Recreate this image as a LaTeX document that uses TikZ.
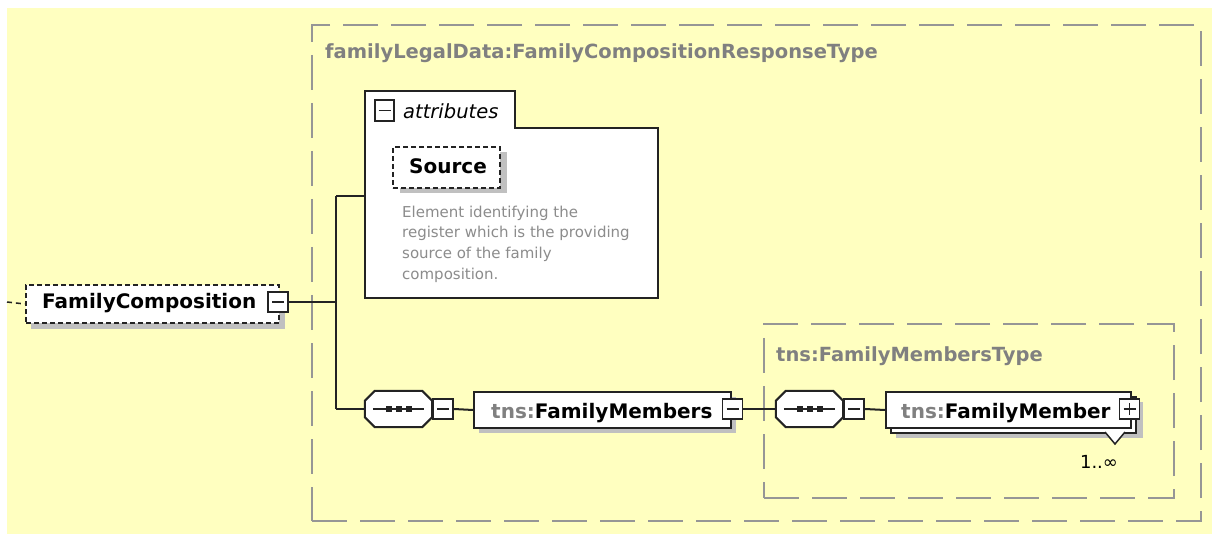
\documentclass[tikz,border=0pt]{standalone}
\usepackage{fontspec}
\setmainfont{DejaVu Sans}
\definecolor{bgy}{RGB}{255,255,192}
\definecolor{dk}{RGB}{35,35,35}
\definecolor{gry}{RGB}{128,128,128}
\definecolor{dashg}{RGB}{150,150,150}
\definecolor{shd}{RGB}{192,192,192}
\definecolor{desc}{RGB}{140,140,140}
\tikzset{
  lbl/.style={font=\fontsize{20}{22}\selectfont\bfseries, inner sep=0pt},
  elem/.style={draw=dk, line width=2pt, fill=white, inner sep=0pt},
  optelem/.style={elem, dash pattern=on 5pt off 3pt},
  toggle/.style={draw=dk, line width=1.8pt, fill=white, minimum width=20pt, minimum height=20pt, inner sep=0pt},
  typebox/.style={draw=dashg, line width=2pt, dash pattern=on 35pt off 13pt, inner sep=0pt},
  conn/.style={draw=dk, line width=2pt},
  shadowst/.style={fill=shd},
  sign/.style={draw=dk, line width=1.5pt},
}
\newcommand{\octa}[2]{% #1 style, #2 node name
  \path[#1] ([xshift=10pt]#2.north west) -- ([xshift=-10pt]#2.north east) -- ([yshift=-10pt]#2.north east) -- ([yshift=10pt]#2.south east) -- ([xshift=-10pt]#2.south east) -- ([xshift=10pt]#2.south west) -- ([yshift=10pt]#2.south west) -- ([yshift=-10pt]#2.north west) -- cycle;}
\begin{document}
\begin{tikzpicture}[x=1pt,y=-1pt]
\useasboundingbox (0,0) rectangle (1212,534);
\fill[white] (0,0) rectangle (1212,534);
\fill[bgy] (7,8) rectangle (1212,534);

% type boxes
\node[typebox, minimum width=889pt, minimum height=496pt, anchor=north west] (rt) at (311,24) {};
\node[lbl, font=\fontsize{19.5}{22}\selectfont\bfseries, text=gry, anchor=base west] (rtt) at (325,59) {familyLegalData:FamilyCompositionResponseType};
\node[typebox, minimum width=410pt, minimum height=174pt, anchor=north west] (mt) at (763,323) {};
\node[lbl, font=\fontsize{19.5}{22}\selectfont\bfseries, text=gry, anchor=base west] (mtt) at (776,361) {tns:FamilyMembersType};

% FamilyComposition
\fill[shadowst] (31,291) rectangle (285,329);
\node[optelem, minimum width=253pt, minimum height=38pt, anchor=north west] (fc) at (25,284) {};
\node[lbl, anchor=base west] (fctx) at (42,309) {FamilyComposition};
\node[toggle] (fct) at (278,302) {};
\draw[sign] ([xshift=-6pt]fct.center) -- ([xshift=6pt]fct.center);
\coordinate (fcin) at (7,302);
\draw[dk, line width=1.5pt, dash pattern=on 5pt off 4pt] (fcin) -- (fc.west);

% junction
\coordinate (j) at (336,302);
\coordinate (jt) at (336,196);
\coordinate (jb) at (336,409);
\coordinate (attrL) at (365,196);
\draw[conn] (fct.east) -- (j);
\draw[conn] (jt) -- (jb);
\draw[conn] (jt) -- (attrL);

% attributes box
\draw[dk, line width=2pt, fill=white] (365,298) -- (365,91) -- (515,91) -- (515,128) -- (658,128) -- (658,298) -- cycle;
\node[toggle, minimum width=19pt, minimum height=21pt] (at) at (384.5,110.5) {};
\draw[sign] ([xshift=-6pt]at.center) -- ([xshift=6pt]at.center);
\node[font=\fontsize{19.5}{22}\selectfont\itshape, inner sep=0pt, anchor=base west] (attx) at (403,119) {attributes};

% Source
\fill[shadowst] (400,152) rectangle (507,193);
\node[optelem, minimum width=107pt, minimum height=41pt, anchor=north west] (src) at (392,146) {};
\node[lbl, anchor=base west] (srctx) at (409,174) {Source};
\node[font=\fontsize{15}{20.7}\selectfont, text=desc, align=left, inner sep=0pt, anchor=north west] (dsc) at (402,205.5)
  {Element identifying the\\register which is the providing\\source of the family\\composition.};

% sequence 1
\node[inner sep=0pt, minimum width=67pt, minimum height=36pt] (seq1) at (398.5,409) {};
\begin{scope}[shift={(6,6)}]\octa{shadowst}{seq1}\end{scope}
\octa{draw=dk, line width=2pt, fill=white}{seq1}
\draw[dk, line width=1.6pt] ([xshift=8pt]seq1.west) -- ([xshift=-8pt]seq1.east);
\foreach \dx in {-10,0,10} \fill[dk] ([xshift=\dx pt]seq1.center) ++(-3,-3) rectangle ++(6,6);
\node[toggle, anchor=west] (seq1t) at (seq1.east) {};
\draw[sign] ([xshift=-6pt]seq1t.center) -- ([xshift=6pt]seq1t.center);
\draw[conn] (jb) -- (seq1.west);

% FamilyMembers
\fill[shadowst] (479,397) rectangle (736,433);
\node[elem, minimum width=257pt, minimum height=36pt, anchor=north west] (fms) at (473,391) {};
\node[lbl, anchor=base west] (fmstx) at (491,418) {\textcolor{gry}{tns:}FamilyMembers};
\node[toggle] (fmst) at (732.5,409) {};
\draw[sign] ([xshift=-6pt]fmst.center) -- ([xshift=6pt]fmst.center);
\draw[conn] (seq1t.east) -- (fms.west);

% sequence 2
\node[inner sep=0pt, minimum width=67pt, minimum height=36pt] (seq2) at (809.5,409) {};
\begin{scope}[shift={(6,6)}]\octa{shadowst}{seq2}\end{scope}
\octa{draw=dk, line width=2pt, fill=white}{seq2}
\draw[dk, line width=1.6pt] ([xshift=8pt]seq2.west) -- ([xshift=-8pt]seq2.east);
\foreach \dx in {-10,0,10} \fill[dk] ([xshift=\dx pt]seq2.center) ++(-3,-3) rectangle ++(6,6);
\node[toggle, anchor=west] (seq2t) at (seq2.east) {};
\draw[sign] ([xshift=-6pt]seq2t.center) -- ([xshift=6pt]seq2t.center);
\draw[conn] (fmst.east) -- (seq2.west);

% FamilyMember (stack)
\fill[shadowst] (896,402) rectangle (1143,438);
\node[elem, minimum width=245pt, minimum height=36pt, anchor=north west] (fmb) at (890,396) {};
\node[elem, minimum width=245pt, minimum height=36pt, anchor=north west] (fm) at (885,391) {};
\node[lbl, anchor=base west] (fmtx) at (901,418) {\textcolor{gry}{tns:}FamilyMember};
\node[toggle] (fmt) at (1129.5,409) {};
\draw[sign] ([xshift=-6pt]fmt.center) -- ([xshift=6pt]fmt.center);
\draw[sign] ([yshift=-6pt]fmt.center) -- ([yshift=6pt]fmt.center);
\draw[dk, line width=1.5pt, fill=white] (1105,432) -- (1115,444) -- (1125,432);
\node[font=\fontsize{18}{20}\selectfont, inner sep=0pt, anchor=base] (occ) at (1099,468) {1..∞};
\draw[conn] (seq2t.east) -- (fm.west);
\end{tikzpicture}
\end{document}
